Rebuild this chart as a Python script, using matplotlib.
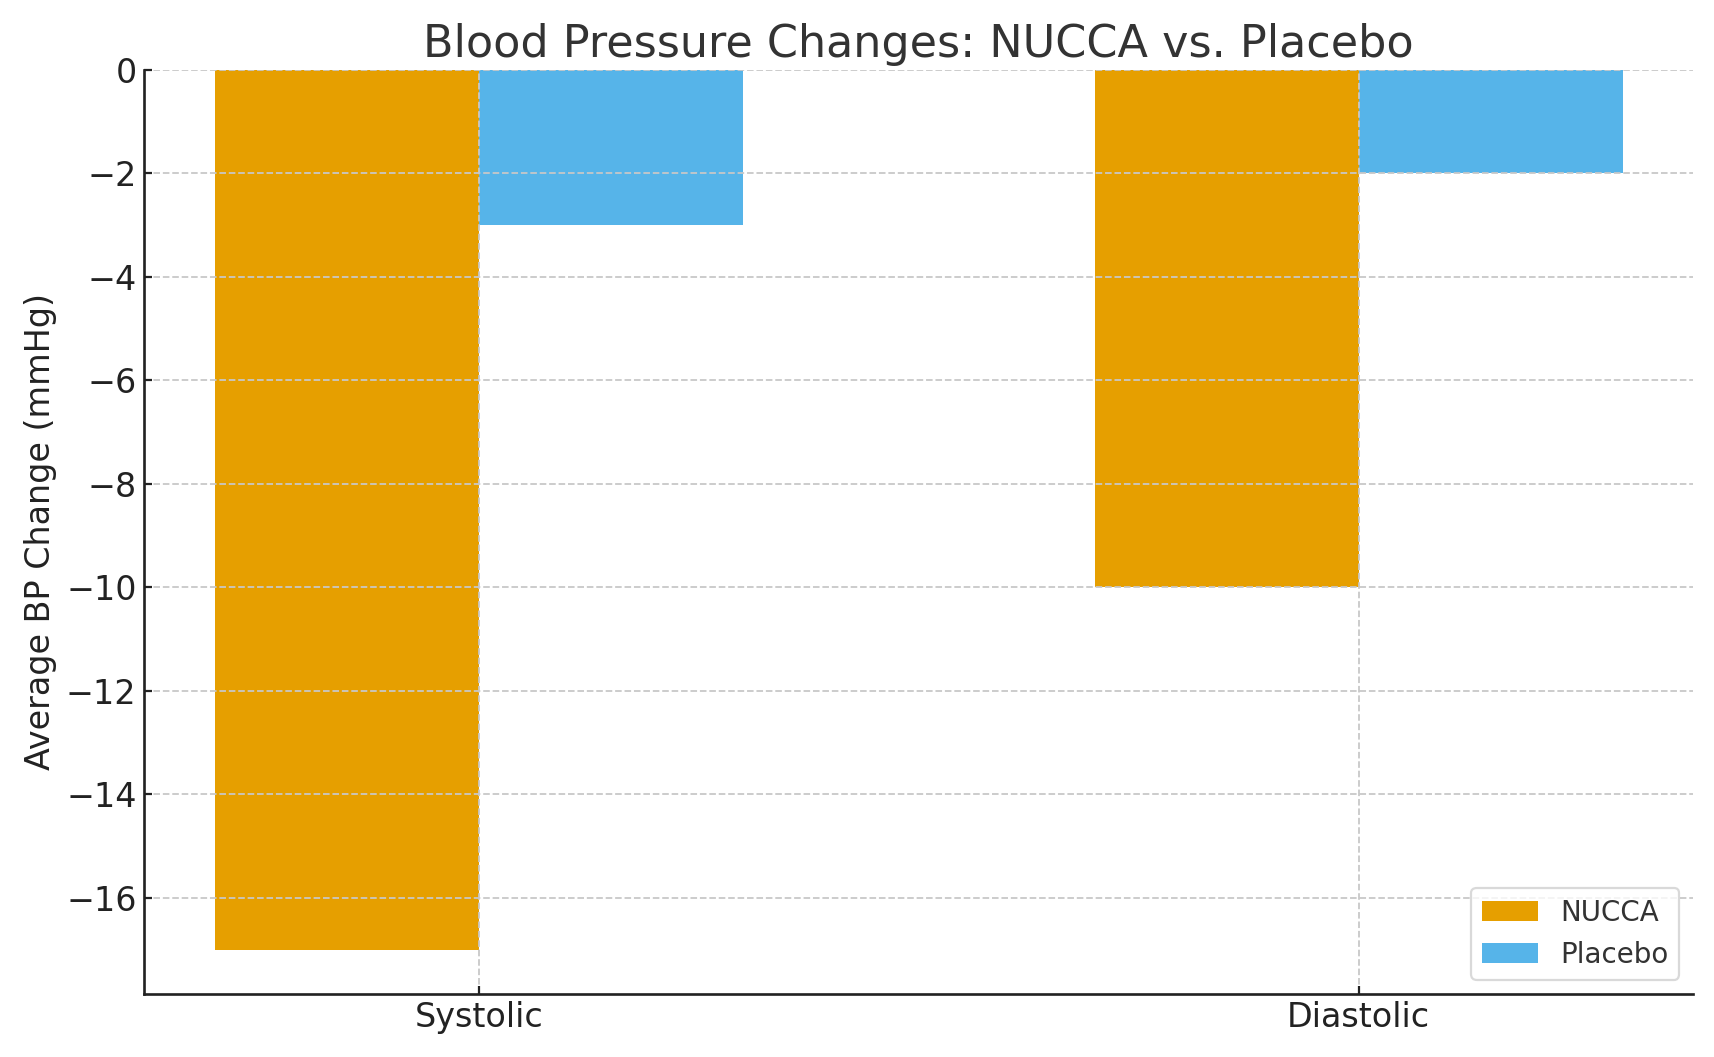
import matplotlib
matplotlib.use("Agg")
import matplotlib.pyplot as plt
import numpy as np

categories = ["Systolic", "Diastolic"]
nucca = [-17, -10]
placebo = [-3, -2]
series_labels = ["NUCCA", "Placebo"]

W, H = 1568.0, 967.0
fig = plt.figure(figsize=(1714/160, 1057/160), dpi=160)
ax = fig.add_axes([132/W, 1-909/H, (1549-132)/W, (909-64)/H])

x = np.arange(len(categories))
w = 0.3
ax.bar(x - w/2, nucca, w, color="#E69F00", label=series_labels[0], zorder=1)
ax.bar(x + w/2, placebo, w, color="#56B4E9", label=series_labels[1], zorder=1)

ax.set_axisbelow(False)
ax.grid(True, linestyle="--", color="#c8c8c8", linewidth=0.8, zorder=3)
ax.set_xticks(x)
ax.set_xticklabels(categories)
ax.tick_params(direction="in", labelsize=15, colors="#222222", length=3.5, width=1)
ax.set_ylabel("Average BP Change (mmHg)", fontsize=15, color="#222222")
ax.set_title("Blood Pressure Changes: NUCCA vs. Placebo", fontsize=20, color="#333333")
for s in ["top", "right"]:
    ax.spines[s].set_visible(False)
for s in ["left", "bottom"]:
    ax.spines[s].set_linewidth(1.2)
    ax.spines[s].set_color("#222222")

leg = ax.legend(loc="lower right", fontsize=12.5, labelcolor="#333333", edgecolor="#d0d0d0")
fig.savefig("out.png", dpi=160)
